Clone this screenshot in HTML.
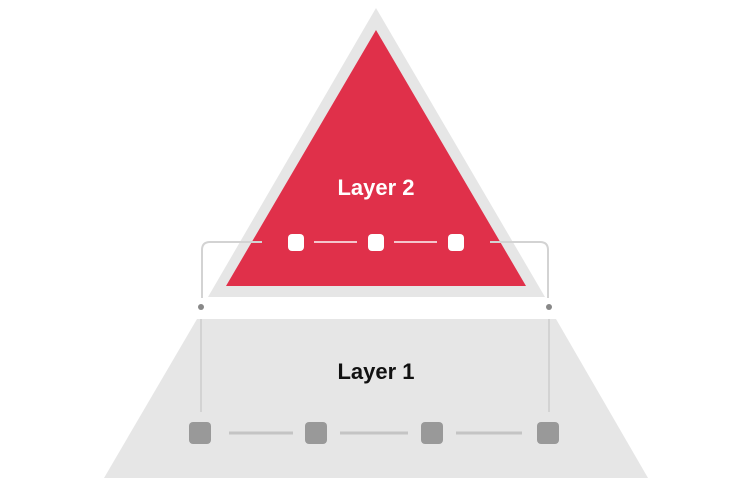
<!DOCTYPE html>
<html><head><meta charset="utf-8"><style>
html,body{margin:0;padding:0;background:#fff;width:754px;height:487px;overflow:hidden}
svg{display:block}
text{font-family:"Liberation Sans",sans-serif;font-weight:bold}
</style></head><body>
<svg width="754" height="487" viewBox="0 0 754 487">
<polygon points="197,319 556,319 648,478 104,478" fill="#e6e6e6"/>
<polygon points="376,8 545,297 208,297" fill="#e6e6e6"/>
<polygon points="376,30 526,286 226,286" fill="#e0304a"/>
<g fill="none" stroke="#d3d3d3" stroke-width="2">
<path d="M262,242 H210 Q202,242 202,250 V298"/>
<path d="M490,242 H540 Q548,242 548,250 V298"/>
<line x1="201" y1="319" x2="201" y2="412"/>
<line x1="549" y1="319" x2="549" y2="412"/>
</g>
<circle cx="201" cy="307" r="3" fill="#888"/>
<circle cx="549" cy="307" r="3" fill="#888"/>
<g stroke="#f4c5cc" stroke-width="2">
<line x1="314" y1="242" x2="357" y2="242"/>
<line x1="394" y1="242" x2="437" y2="242"/>
</g>
<g fill="#fff">
<rect x="288" y="234" width="16" height="17" rx="4"/>
<rect x="368" y="234" width="16" height="17" rx="4"/>
<rect x="448" y="234" width="16" height="17" rx="4"/>
</g>
<g stroke="#c4c4c4" stroke-width="3">
<line x1="229" y1="433" x2="293" y2="433"/>
<line x1="340" y1="433" x2="408" y2="433"/>
<line x1="456" y1="433" x2="522" y2="433"/>
</g>
<g fill="#999">
<rect x="189" y="422" width="22" height="22" rx="4"/>
<rect x="305" y="422" width="22" height="22" rx="4"/>
<rect x="421" y="422" width="22" height="22" rx="4"/>
<rect x="537" y="422" width="22" height="22" rx="4"/>
</g>
<text x="376" y="195" font-size="22" fill="#fff" text-anchor="middle">Layer 2</text>
<text x="376" y="379" font-size="22" fill="#111" text-anchor="middle">Layer 1</text>
</svg>
</body></html>
